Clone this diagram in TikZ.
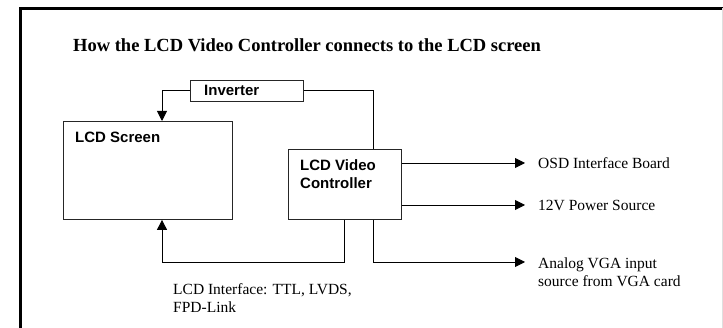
\documentclass[tikz,border=0pt]{standalone}
\usepackage{fontspec}
\setmainfont{Liberation Serif}
\setsansfont{Liberation Sans}
\usetikzlibrary{arrows.meta,positioning}

\tikzset{
  box/.style={draw=black!85,line width=0.9pt,inner sep=0pt},
  boxtext/.style={font=\fontsize{15}{18}\selectfont\sffamily\bfseries,inner sep=0pt,align=left},
  note/.style={font=\fontsize{15.5}{18}\selectfont,inner sep=0pt,align=left},
  wire/.style={line width=0.9pt,-{Triangle[length=10pt,width=10pt]}}
}

\begin{document}
\begin{tikzpicture}[x=1pt,y=1pt]
  \useasboundingbox (0,0) rectangle (723,-328);
  % frame
  \draw[line width=3pt] (20.5,-328) |- (723,-8.5);
  \draw[gray!25,line width=1pt] (722.5,-8.5) -- (722.5,-328);
  % title
  \node[font=\fontsize{18.5}{22}\selectfont\bfseries,inner sep=0pt,anchor=west] (title) at (73,-45) {How the LCD Video Controller connects to the LCD screen};
  % boxes
  \node[box,minimum width=113pt,minimum height=21pt,anchor=north west] (inv) at (190,-80) {};
  \node[boxtext,anchor=west] (invtxt) at (204,-90.5) {Inverter};
  \node[box,minimum width=169pt,minimum height=98pt,anchor=north west] (screen) at (63,-121) {};
  \node[boxtext,anchor=north west] (scrtxt) at (75,-132) {LCD Screen};
  \node[box,minimum width=113pt,minimum height=70pt,anchor=north west] (ctrl) at (288,-149) {};
  \node[boxtext,anchor=north west] (ctrltxt) at (300,-159) {LCD Video\\Controller};
  % outputs
  \node[note,anchor=west] (osd) at (538,-163) {OSD Interface Board};
  \node[note,anchor=west] (pwr) at (538,-205) {12V Power Source};
  \node[note,anchor=north west] (vga) at (538,-258) {Analog VGA input\\source from VGA card};
  \node[note,anchor=north west] (iface) at (173,-283) {LCD Interface: TTL, LVDS,\\FPD-Link};
  \coordinate (tip) at (525,0);
  % connectors
  \draw[wire] (inv.west) -| (screen.north -| 162,0);
  \draw[line width=0.9pt] (inv.east) -| (ctrl.north -| 373,0);
  \draw[wire] (ctrl.east |- osd) -- (tip |- osd);
  \draw[wire] (ctrl.east |- pwr) -- (tip |- pwr);
  \draw[wire] (ctrl.south -| 373,0) |- (525,-262);
  \draw[wire] (ctrl.south -| 344,0) |- (162,-262) -- (screen.south -| 162,0);
\end{tikzpicture}
\end{document}
